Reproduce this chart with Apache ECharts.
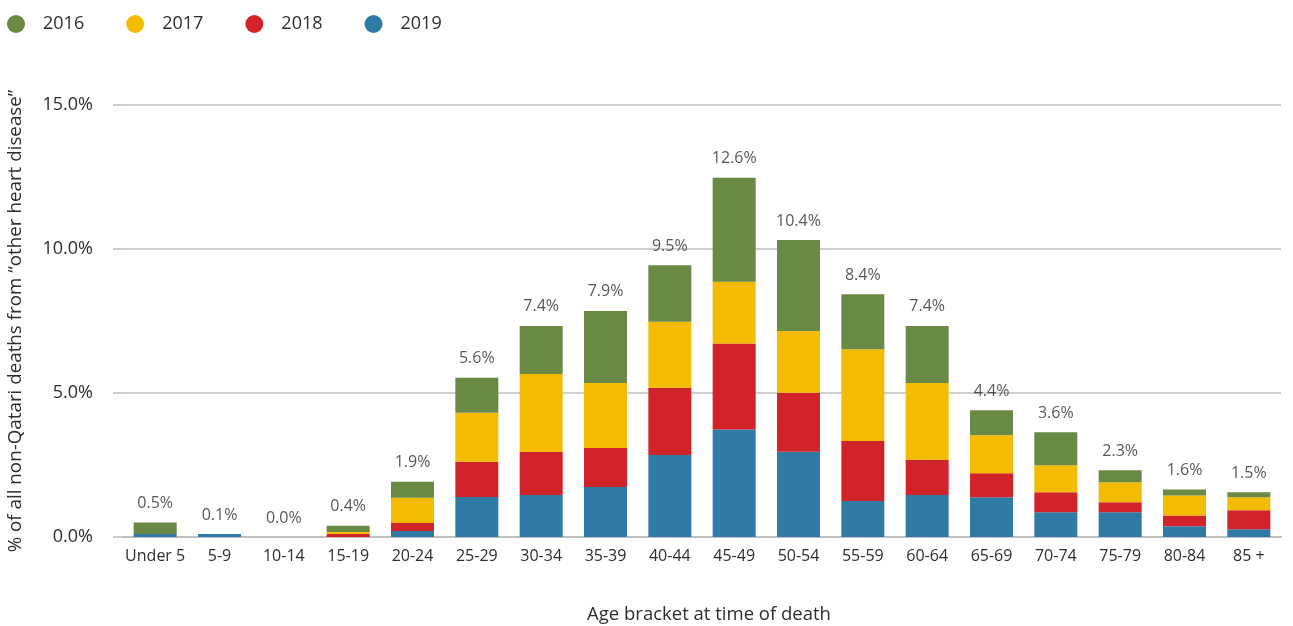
<!DOCTYPE html>
<html>
<head>
<meta charset="utf-8">
<script src="https://cdn.jsdelivr.net/npm/echarts@6/dist/echarts.min.js"></script>
<style>
  html, body { margin: 0; padding: 0; background: #fff; }
  #chart { width: 1293px; height: 626px; }
</style>
</head>
<body>
<div id="chart"></div>
<script>
// age brackets on the x axis
var categories = ['Under 5', '5-9', '10-14', '15-19', '20-24', '25-29', '30-34', '35-39', '40-44',
    '45-49', '50-54', '55-59', '60-64', '65-69', '70-74', '75-79', '80-84', '85 +'];

// share of deaths (%) per year
var y2019 = [0.1, 0.1, 0, 0, 0.21, 1.39, 1.46, 1.74, 2.85, 3.73, 2.96, 1.25, 1.46, 1.38, 0.86, 0.86, 0.37, 0.27];
var y2018 = [0, 0, 0, 0.1, 0.28, 1.22, 1.49, 1.35, 2.33, 2.99, 2.05, 2.08, 1.22, 0.83, 0.69, 0.35, 0.38, 0.66];
var y2017 = [0, 0, 0, 0.07, 0.87, 1.70, 2.71, 2.26, 2.29, 2.14, 2.14, 3.19, 2.67, 1.32, 0.94, 0.69, 0.69, 0.45];
var y2016 = [0.4, 0, 0, 0.22, 0.56, 1.22, 1.67, 2.50, 1.97, 3.61, 3.16, 1.91, 1.98, 0.87, 1.15, 0.42, 0.21, 0.17];

// total labels printed above each bar
var totalLabels = ['0.5%', '0.1%', '0.0%', '0.4%', '1.9%', '5.6%', '7.4%', '7.9%', '9.5%',
    '12.6%', '10.4%', '8.4%', '7.4%', '4.4%', '3.6%', '2.3%', '1.6%', '1.5%'];

// y axis ticks
var yMin = 0, yMax = 15, yStep = 5;

var colors = {
    '2016': '#6a8944',
    '2017': '#f3bc02',
    '2018': '#d3232a',
    '2019': '#2f7ba6'
};

var stackTops = categories.map(function (c, i) {
    return y2019[i] + y2018[i] + y2017[i] + y2016[i];
});

var font = 'Open Sans';
var textColor = '#2e2e2e';

function barSeries(name, data) {
    return {
        name: name,
        type: 'bar',
        stack: 'total',
        barWidth: 43,
        itemStyle: { color: colors[name] },
        emphasis: { disabled: true },
        data: data
    };
}

var chart = echarts.init(document.getElementById('chart'));

var option = {
    animation: false,
    textStyle: { fontFamily: font },
    legend: {
        left: 2,
        top: 10,
        icon: 'circle',
        itemWidth: 18,
        itemHeight: 18,
        itemGap: 42,
        textStyle: { fontSize: 18, color: textColor, fontFamily: font, padding: [0, 0, 0, 13] },
        data: ['2016', '2017', '2018', '2019']
    },
    grid: {
        left: 123,
        right: 12,
        top: 105,
        bottom: 89,
        outerBoundsMode: 'none'
    },
    xAxis: {
        type: 'category',
        data: categories,
        name: 'Age bracket at time of death',
        nameLocation: 'middle',
        nameGap: 68,
        nameTextStyle: { fontSize: 18.5, color: textColor, fontFamily: font, padding: [0, 0, 0, 14] },
        axisLine: { lineStyle: { color: '#bfbfbf', width: 2 } },
        axisTick: { show: false },
        axisLabel: { interval: 0, fontSize: 16, color: textColor, margin: 11, fontFamily: font }
    },
    yAxis: {
        type: 'value',
        min: yMin,
        max: yMax,
        interval: yStep,
        name: '% of all non-Qatari deaths from \u201Cother heart disease\u201D',
        nameLocation: 'middle',
        nameGap: 98,
        nameTextStyle: { fontSize: 18.8, color: textColor, fontFamily: font },
        axisLine: { show: false },
        axisTick: { show: true, length: 10, lineStyle: { color: '#bfbfbf', width: 1.5 } },
        axisLabel: {
            fontSize: 18,
            color: textColor,
            margin: 30,
            fontFamily: font,
            formatter: function (v) { return v.toFixed(1) + '%'; }
        },
        splitLine: { lineStyle: { color: '#bfbfbf', width: 1.5 } }
    },
    series: [
        barSeries('2019', y2019),
        barSeries('2018', y2018),
        barSeries('2017', y2017),
        barSeries('2016', y2016),
        {
            name: 'total',
            type: 'scatter',
            symbolSize: 0,
            silent: true,
            data: stackTops,
            label: {
                show: true,
                position: 'top',
                distance: 11,
                fontSize: 16,
                color: textColor,
                fontFamily: font,
                formatter: function (p) { return totalLabels[p.dataIndex]; }
            }
        }
    ]
};

chart.setOption(option);
</script>
</body>
</html>
